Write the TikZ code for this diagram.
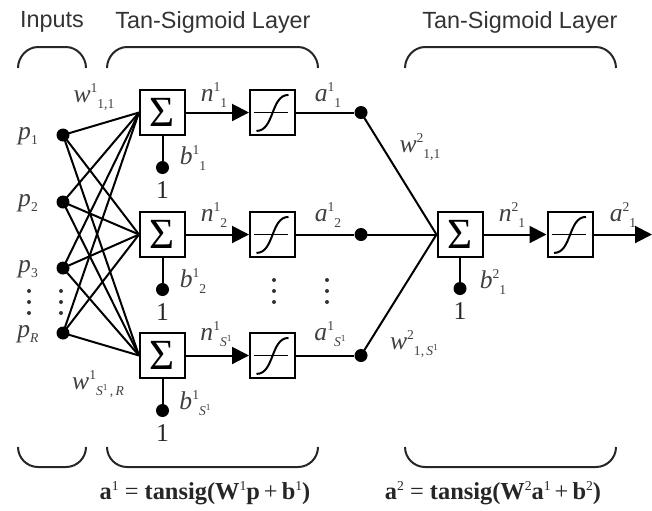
\documentclass[tikz,border=0pt]{standalone}
\usepackage{fontspec}
\setmainfont{Liberation Serif}
\setsansfont{Liberation Sans}
\usetikzlibrary{positioning,arrows.meta}

% staggered super/subscripts for the weight labels
\newcommand{\sups}[1]{\raisebox{0.85ex}{\fontsize{6.8}{7}\selectfont #1}}
\newcommand{\subs}[1]{\raisebox{-0.45ex}{\fontsize{6.8}{7}\selectfont #1}}
\newcommand{\wlab}[3]{\textit{#1}\sups{#2}\subs{#3}}
\newcommand{\Sone}{\textit{S}\raisebox{0.7ex}{\fontsize{4.7}{5}\selectfont 1}}

\begin{document}
\begin{tikzpicture}[x=0.5pt, y=-0.5pt,
	every node/.style={on grid},
	sumbox/.style={draw, line width=1pt, minimum size=22.5pt, inner sep=0pt, fill=white,
		font=\fontsize{21.5}{21.5}\selectfont},
	tfbox/.style={draw, line width=1pt, minimum size=22.5pt, inner sep=0pt, fill=white,
		path picture={
			\draw[line width=0.6pt] ([xshift=2pt]path picture bounding box.west) -- ([xshift=-3.5pt]path picture bounding box.east);
			\draw[line width=1pt] ([shift={(-8pt,-9.2pt)}]path picture bounding box.center)
				.. controls +(9pt,0pt) and +(-9pt,0pt) .. ([shift={(8pt,8.8pt)}]path picture bounding box.center);
		}},
	dot/.style={fill, circle, inner sep=0pt, minimum size=6.5pt},
	vdot/.style={fill=black!80, circle, inner sep=0pt, minimum size=2pt},
	lbl/.style={text=black!75, font=\fontsize{12.8}{13}\selectfont, inner sep=0pt},
	head/.style={text=black!80, font=\sffamily\fontsize{11.7}{14}\selectfont},
	formula/.style={text=black!85, font=\fontsize{12.2}{15}\selectfont},
	wire/.style={line width=1pt},
	brace/.style={line width=1pt, black!85},
	>={Triangle[length=8.5pt, width=8.5pt]}]

	\useasboundingbox (0,0) rectangle (652,510);

	% headings
	\node[head] (hin) at (52,22) {Inputs};
	\node[head] (hl1) at (213,22) {Tan-Sigmoid Layer};
	\node[head] (hl2) at (520,22) {Tan-Sigmoid Layer};

	% inputs
	\node[dot] (p1) at (63,135) {};
	\node[dot] (p2) at (63,202) {};
	\node[dot] (p3) at (63,268) {};
	\node[dot] (pR) at (63,333) {};
	\node[lbl] (lp1) at (28,136) {\textit{p}\subs{1}};
	\node[lbl] (lp2) at (28,203) {\textit{p}\subs{2}};
	\node[lbl] (lp3) at (28,269) {\textit{p}\subs{3}};
	\node[lbl] (lpR) at (28,334) {\textit{p}\subs{\textit{R}}};

	% first layer
	\foreach \i/\y in {1/112.5, 2/234.5, 3/355.5} {
		\node[sumbox] (sum\i) at (162.5,\y) {Σ};
		\node[tfbox, right=55pt of sum\i] (tf\i) {};
		\node[dot, right=44.25pt of tf\i] (a\i) {};
		\node[dot, below=27.5pt of sum\i] (bias\i) {};
		\node[lbl, below=11.5pt of bias\i, text=black!85] (one\i) {1};
		\draw[wire, ->] (sum\i) -- (tf\i);
		\draw[wire] (tf\i) -- (a\i);
		\draw[wire] (sum\i) -- (bias\i);
	}

	% every input feeds every neuron
	\foreach \p in {p1,p2,p3,pR}
		\foreach \s in {sum1,sum2,sum3}
			\draw[wire] (\p.center) -- (\s.west);

	% second layer
	\node[sumbox] (sum4) at (460,234.5) {Σ};
	\node[tfbox, right=55pt of sum4] (tf4) {};
	\node[dot, below=27pt of sum4] (bias4) {};
	\node[lbl, below=11.5pt of bias4, text=black!85] (one4) {1};
	\coordinate (out) at (652,234.5);
	\draw[wire] (sum4) -- (bias4);
	\draw[wire, ->] (sum4) -- (tf4);
	\draw[wire, ->] (tf4) -- (out);
	\foreach \i in {1,2,3}
		\draw[wire] (a\i.center) -- (sum4.west);

	% vertical ellipses
	\foreach \y in {291,302,313} {
		\node[vdot] at (29,\y) {};
		\node[vdot] at (61,\y) {};
	}
	\foreach \y in {280,291,302} {
		\node[vdot] at (274,\y) {};
		\node[vdot] at (327,\y) {};
	}

	% weight, net input, bias and output labels
	\node[lbl] (w111) at (94,97) {\wlab{w}{1}{1,1}};
	\node[lbl] (w1SR) at (98,384) {\wlab{w}{1}{\Sone\,,\,\textit{R}}};
	\node[lbl] (n11) at (214,95) {\wlab{n}{1}{1}};
	\node[lbl] (n12) at (214,215) {\wlab{n}{1}{2}};
	\node[lbl] (n1S) at (216,334) {\wlab{n}{1}{\Sone}};
	\node[lbl] (a11) at (328,95) {\wlab{a}{1}{1}};
	\node[lbl] (a12) at (328,215) {\wlab{a}{1}{2}};
	\node[lbl] (a1S) at (330,334) {\wlab{a}{1}{\Sone}};
	\node[lbl] (b11) at (193,158) {\wlab{b}{1}{1}};
	\node[lbl] (b12) at (193,281) {\wlab{b}{1}{2}};
	\node[lbl] (b1S) at (195,403) {\wlab{b}{1}{\Sone}};
	\node[lbl] (w211) at (420,147) {\wlab{w}{2}{1,1}};
	\node[lbl] (w21S) at (414,344) {\wlab{w}{2}{1,\,\Sone}};
	\node[lbl] (n21) at (512,215) {\wlab{n}{2}{1}};
	\node[lbl] (b21) at (493,282) {\wlab{b}{2}{1}};
	\node[lbl] (a21) at (623,215) {\wlab{a}{2}{1}};

	% braces above and below each group, with rounded ends
	\foreach \l/\r in {18/86, 107/318, 405/616} {
		\draw[brace] (\l,68) .. controls (\l,57) and ({\l+9},47) .. ({\l+20},47) -- ({\r-20},47)
			.. controls ({\r-9},47) and (\r,57) .. (\r,68);
		\draw[brace] (\l,447) .. controls (\l,458) and ({\l+9},467) .. ({\l+20},467) -- ({\r-20},467)
			.. controls ({\r-9},467) and (\r,458) .. (\r,447);
	}

	% layer equations
	\node[formula] (eq1) at (205,493) {\textbf{a}\sups{1} = \textbf{tansig(W}\sups{1}\textbf{p}\,+\,\textbf{b}\sups{1}\textbf{)}};
	\node[formula] (eq2) at (493,493) {\textbf{a}\sups{2} = \textbf{tansig(W}\sups{2}\textbf{a}\sups{1}\,+\,\textbf{b}\sups{2}\textbf{)}};
\end{tikzpicture}
\end{document}
